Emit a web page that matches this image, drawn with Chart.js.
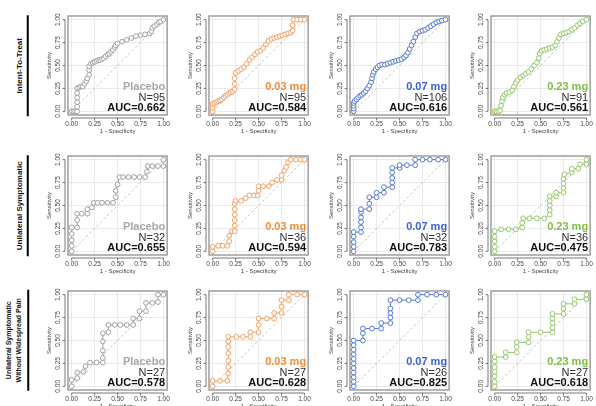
<!DOCTYPE html>
<html>
<head>
<meta charset="utf-8">
<script src="https://cdn.jsdelivr.net/npm/chart.js@4"></script>
<style>
    html, body { margin: 0; padding: 0; background: #fff; overflow: hidden; }
    body { width: 596px; height: 406px; position: relative; }
    canvas { position: absolute; }
    .row-label {
        position: absolute;
        box-sizing: border-box;
        font-family: "Liberation Sans", Arial, sans-serif;
        font-weight: bold;
        color: #111;
        text-align: center;
        border-bottom: 2.5px solid #000;
        transform: rotate(-90deg);
        white-space: pre;
    }
</style>
</head>
<body>
<script>
// panel labels
const groups = ['Placebo', '0.03 mg', '0.07 mg', '0.23 mg'];
const populations = ['Intent-To-Treat', 'Unilateral Symptomatic', 'Unilateral Symptomatic\nWithout Widespread Pain'];
const sampleSizes = [[95, 95, 106, 91], [32, 36, 32, 36], [27, 27, 26, 27]];
const aucValues = [[0.662, 0.584, 0.616, 0.561], [0.655, 0.594, 0.783, 0.475], [0.578, 0.628, 0.825, 0.618]];
const tickVals = [0, 0.25, 0.5, 0.75, 1];

// ROC points as [1 - specificity, sensitivity]
const ittPlacebo = [[0,0],[0.02,0],[0.04,0],[0.06,0],[0.06,0.05],[0.06,0.10],[0.06,0.15],[0.06,0.20],[0.06,0.25],[0.08,0.26],[0.10,0.27],[0.12,0.27],[0.14,0.30],[0.16,0.33],[0.17,0.36],[0.19,0.40],[0.19,0.45],[0.19,0.49],[0.21,0.52],[0.23,0.53],[0.25,0.54],[0.27,0.55],[0.29,0.56],[0.31,0.56],[0.33,0.57],[0.35,0.58],[0.37,0.60],[0.39,0.62],[0.41,0.63],[0.43,0.65],[0.45,0.67],[0.47,0.70],[0.48,0.72],[0.50,0.74],[0.55,0.76],[0.60,0.78],[0.65,0.80],[0.70,0.82],[0.75,0.83],[0.80,0.84],[0.85,0.85],[0.87,0.87],[0.88,0.91],[0.90,0.93],[0.93,0.95],[0.95,0.97],[0.97,0.98],[1,1]];
const itt003 = [[0,0],[0,0.04],[0,0.08],[0.02,0.09],[0.04,0.10],[0.06,0.11],[0.08,0.12],[0.10,0.13],[0.12,0.15],[0.14,0.17],[0.16,0.18],[0.18,0.20],[0.20,0.21],[0.22,0.22],[0.24,0.24],[0.24,0.30],[0.24,0.36],[0.25,0.42],[0.28,0.44],[0.31,0.46],[0.34,0.48],[0.37,0.52],[0.40,0.56],[0.43,0.59],[0.46,0.62],[0.49,0.65],[0.52,0.66],[0.55,0.69],[0.58,0.73],[0.61,0.77],[0.64,0.79],[0.67,0.80],[0.70,0.81],[0.73,0.82],[0.76,0.83],[0.79,0.84],[0.82,0.85],[0.85,0.86],[0.87,0.88],[0.87,0.94],[0.88,1],[0.92,1],[0.96,1],[1,1]];
const itt007 = [[0,0],[0,0.03],[0,0.06],[0,0.09],[0.01,0.11],[0.03,0.13],[0.05,0.15],[0.07,0.17],[0.09,0.18],[0.11,0.20],[0.13,0.22],[0.15,0.25],[0.17,0.28],[0.19,0.32],[0.20,0.36],[0.21,0.40],[0.22,0.43],[0.24,0.46],[0.26,0.48],[0.28,0.50],[0.31,0.51],[0.34,0.51],[0.37,0.52],[0.40,0.53],[0.43,0.54],[0.46,0.55],[0.49,0.56],[0.52,0.57],[0.55,0.59],[0.57,0.61],[0.59,0.64],[0.61,0.68],[0.63,0.72],[0.65,0.76],[0.67,0.81],[0.69,0.85],[0.72,0.87],[0.75,0.88],[0.78,0.89],[0.81,0.91],[0.84,0.93],[0.87,0.95],[0.90,0.97],[0.93,0.98],[0.96,0.99],[1,1]];
const itt023 = [[0,0],[0.02,0],[0.04,0],[0.06,0.01],[0.07,0.06],[0.08,0.11],[0.09,0.15],[0.11,0.18],[0.13,0.20],[0.16,0.21],[0.19,0.23],[0.21,0.27],[0.23,0.31],[0.25,0.34],[0.28,0.37],[0.31,0.39],[0.34,0.41],[0.37,0.43],[0.40,0.46],[0.43,0.50],[0.46,0.53],[0.48,0.58],[0.49,0.63],[0.51,0.66],[0.54,0.67],[0.57,0.68],[0.60,0.69],[0.63,0.70],[0.66,0.72],[0.68,0.76],[0.70,0.80],[0.72,0.84],[0.75,0.85],[0.78,0.86],[0.81,0.87],[0.84,0.89],[0.87,0.91],[0.90,0.94],[0.93,0.96],[0.96,0.98],[1,1]];

const usPlacebo = [[0,0],[0,0.06],[0,0.12],[0,0.19],[0,0.26],[0.06,0.26],[0.06,0.34],[0.06,0.41],[0.11,0.41],[0.17,0.41],[0.17,0.46],[0.22,0.48],[0.24,0.53],[0.28,0.53],[0.33,0.53],[0.39,0.53],[0.45,0.53],[0.48,0.59],[0.48,0.66],[0.50,0.73],[0.52,0.81],[0.56,0.81],[0.62,0.81],[0.68,0.81],[0.74,0.81],[0.80,0.81],[0.82,0.87],[0.83,0.93],[0.88,0.93],[0.94,0.93],[1,0.93],[1,1]];
const us003 = [[0,0],[0,0.05],[0.06,0.06],[0.11,0.06],[0.16,0.06],[0.18,0.11],[0.18,0.17],[0.21,0.22],[0.24,0.22],[0.24,0.28],[0.24,0.34],[0.24,0.40],[0.24,0.46],[0.24,0.52],[0.25,0.55],[0.31,0.55],[0.36,0.58],[0.40,0.61],[0.45,0.61],[0.49,0.61],[0.50,0.66],[0.50,0.71],[0.55,0.71],[0.61,0.71],[0.65,0.75],[0.70,0.78],[0.75,0.78],[0.75,0.83],[0.78,0.88],[0.80,0.92],[0.82,0.97],[0.85,1],[0.91,1],[0.96,1],[1,1]];
const us007 = [[0,0],[0,0.05],[0,0.10],[0,0.16],[0,0.21],[0.08,0.21],[0.08,0.26],[0.08,0.32],[0.08,0.37],[0.08,0.43],[0.08,0.46],[0.17,0.46],[0.17,0.52],[0.17,0.59],[0.25,0.59],[0.25,0.64],[0.33,0.64],[0.33,0.70],[0.42,0.70],[0.42,0.75],[0.42,0.80],[0.42,0.86],[0.42,0.91],[0.50,0.91],[0.50,0.94],[0.58,0.94],[0.67,0.94],[0.67,1],[0.75,1],[0.83,1],[0.92,1],[1,1]];
const us023 = [[0,0],[0,0.05],[0,0.11],[0,0.16],[0,0.22],[0.07,0.24],[0.15,0.24],[0.23,0.24],[0.30,0.26],[0.30,0.31],[0.31,0.36],[0.38,0.36],[0.46,0.36],[0.54,0.36],[0.60,0.40],[0.60,0.45],[0.60,0.50],[0.60,0.55],[0.60,0.60],[0.67,0.60],[0.67,0.64],[0.75,0.64],[0.75,0.69],[0.75,0.74],[0.75,0.79],[0.76,0.84],[0.84,0.86],[0.84,0.90],[0.91,0.90],[0.93,0.95],[1,0.95],[1,1]];

const wPlacebo = [[0,0],[0,0.07],[0.06,0.09],[0.06,0.15],[0.13,0.16],[0.15,0.22],[0.20,0.26],[0.27,0.26],[0.34,0.26],[0.34,0.31],[0.34,0.39],[0.34,0.49],[0.34,0.58],[0.40,0.59],[0.40,0.67],[0.47,0.67],[0.53,0.67],[0.60,0.67],[0.67,0.67],[0.67,0.74],[0.74,0.74],[0.74,0.82],[0.81,0.82],[0.81,0.91],[0.88,0.91],[0.94,0.92],[0.94,1],[1,1]];
const w003 = [[0,0],[0,0.06],[0.08,0.06],[0.16,0.06],[0.17,0.14],[0.17,0.21],[0.17,0.28],[0.17,0.36],[0.17,0.43],[0.17,0.49],[0.17,0.54],[0.26,0.54],[0.33,0.54],[0.41,0.54],[0.41,0.59],[0.50,0.59],[0.50,0.67],[0.50,0.74],[0.59,0.74],[0.67,0.74],[0.67,0.80],[0.75,0.80],[0.75,0.87],[0.75,0.94],[0.83,0.94],[0.83,1],[0.92,1],[1,1]];
const w007 = [[0,0],[0,0.05],[0,0.10],[0,0.15],[0,0.20],[0,0.25],[0,0.30],[0,0.35],[0,0.40],[0,0.45],[0,0.50],[0.10,0.50],[0.10,0.58],[0.10,0.63],[0.20,0.63],[0.30,0.63],[0.30,0.69],[0.40,0.69],[0.40,0.75],[0.40,0.80],[0.40,0.85],[0.40,0.94],[0.50,0.94],[0.60,0.94],[0.70,0.94],[0.70,1],[0.80,1],[0.90,1],[1,1]];
const w023 = [[0,0],[0,0.05],[0,0.11],[0,0.16],[0,0.21],[0,0.27],[0,0.32],[0.12,0.32],[0.12,0.37],[0.24,0.37],[0.24,0.43],[0.24,0.48],[0.37,0.48],[0.37,0.54],[0.37,0.59],[0.50,0.59],[0.63,0.59],[0.63,0.64],[0.63,0.69],[0.63,0.74],[0.63,0.79],[0.75,0.79],[0.75,0.85],[0.75,0.90],[0.87,0.90],[0.87,0.95],[1,0.95],[1,1]];

const rocCurves = [
    [ittPlacebo, itt003, itt007, itt023],
    [usPlacebo, us003, us007, us023],
    [wPlacebo, w003, w007, w023]
];
const diagonal = [[0, 0], [1, 1]];

const markerColors = ['#a0a0a0', '#f2a163', '#5479d2', '#92c868'];
const textColors = ['#a8a8a8', '#f28c38', '#3b62cf', '#7cbf49'];

// layout of the plot boxes
const boxLefts = [68, 209, 350, 491];
const boxTops = [14, 154, 289];
const boxW = 101, boxH = 101;
const yAxisW = 26, xAxisH = 20, padTop = 3, padRight = 6;
const FONT = '"Liberation Sans", Arial, sans-serif';

// R-like panel: box, offset axes, rotated y labels and the N / AUC legend
const rPanel = {
    id: 'rPanel',
    afterDraw(chart) {
        const { ctx, chartArea: a, scales: { x, y } } = chart;
        const info = chart.options.plugins.rPanel;
        ctx.save();
        ctx.strokeStyle = '#8f8f8f';
        ctx.lineWidth = 1.3;
        ctx.strokeRect(a.left, a.top, a.right - a.left, a.bottom - a.top);

        const by = a.bottom + 3, lx = a.left - 3;
        ctx.strokeStyle = '#555';
        ctx.lineWidth = 0.8;
        ctx.beginPath();
        ctx.moveTo(x.getPixelForValue(0), by);
        ctx.lineTo(x.getPixelForValue(1), by);
        ctx.moveTo(lx, y.getPixelForValue(0));
        ctx.lineTo(lx, y.getPixelForValue(1));
        tickVals.forEach(v => {
            const px = x.getPixelForValue(v), py = y.getPixelForValue(v);
            ctx.moveTo(px, by); ctx.lineTo(px, by + 2.5);
            ctx.moveTo(lx, py); ctx.lineTo(lx - 2.5, py);
        });
        ctx.stroke();

        ctx.fillStyle = '#444';
        ctx.font = '6.5px ' + FONT;
        ctx.textAlign = 'center';
        ctx.textBaseline = 'bottom';
        tickVals.forEach(v => {
            ctx.save();
            ctx.translate(lx - 3.5, y.getPixelForValue(v));
            ctx.rotate(-Math.PI / 2);
            ctx.fillText(v.toFixed(2), 0, 0);
            ctx.restore();
        });
        ctx.save();
        ctx.font = '6px ' + FONT;
        ctx.translate(a.left - 18.5, (a.top + a.bottom) / 2);
        ctx.rotate(-Math.PI / 2);
        ctx.textBaseline = 'middle';
        ctx.fillText('Sensitivity', 0, 0);
        ctx.restore();

        ctx.textAlign = 'right';
        ctx.textBaseline = 'alphabetic';
        const rx = a.right - 2;
        ctx.font = 'bold 11px ' + FONT;
        ctx.fillStyle = info.color;
        ctx.fillText(info.group, rx, a.bottom - 25);
        ctx.font = '11px ' + FONT;
        ctx.fillStyle = '#333';
        ctx.fillText('N=' + info.n, rx, a.bottom - 14.5);
        ctx.font = 'bold 11px ' + FONT;
        ctx.fillStyle = '#111';
        ctx.fillText('AUC=' + info.auc.toFixed(3), rx, a.bottom - 4);
        ctx.restore();
    }
};

function toPoints(pairs) {
    return pairs.map(p => ({ x: p[0], y: p[1] }));
}

function setTicks(scale) {
    scale.ticks = tickVals.map(v => ({ value: v }));
}

function makePanel(row, col) {
    const canvas = document.createElement('canvas');
    const w = yAxisW + boxW + padRight, h = padTop + boxH + xAxisH;
    canvas.width = w;
    canvas.height = h;
    canvas.style.left = (boxLefts[col] - yAxisW) + 'px';
    canvas.style.top = (boxTops[row] - padTop) + 'px';
    canvas.style.width = w + 'px';
    canvas.style.height = h + 'px';
    document.body.appendChild(canvas);

    const color = markerColors[col];
    new Chart(canvas.getContext('2d'), {
        type: 'line',
        data: {
            datasets: [{
                data: toPoints(rocCurves[row][col]),
                borderColor: color,
                borderWidth: 1,
                pointRadius: 2.4,
                pointBorderWidth: 1,
                pointBorderColor: color,
                pointBackgroundColor: '#fff',
                tension: 0
            }, {
                data: toPoints(diagonal),
                borderColor: '#bdbdbd',
                borderWidth: 0.8,
                borderDash: [3, 2],
                pointRadius: 0
            }]
        },
        options: {
            responsive: false,
            animation: false,
            devicePixelRatio: 1,
            layout: { padding: { top: padTop, right: padRight, left: 0, bottom: 0 } },
            plugins: {
                legend: { display: false },
                tooltip: { enabled: false },
                rPanel: {
                    group: groups[col],
                    color: textColors[col],
                    n: sampleSizes[row][col],
                    auc: aucValues[row][col]
                }
            },
            scales: {
                x: {
                    type: 'linear',
                    min: -0.04,
                    max: 1.04,
                    afterBuildTicks: setTicks,
                    afterFit: (scale) => { scale.height = xAxisH; },
                    border: { display: false },
                    grid: { color: '#e6e6e6', lineWidth: 0.8, drawTicks: false },
                    ticks: {
                        padding: 5,
                        color: '#444',
                        font: { size: 6.5, family: FONT },
                        maxRotation: 0,
                        callback: (v) => v.toFixed(2)
                    },
                    title: {
                        display: true,
                        text: '1 - Specificity',
                        color: '#444',
                        font: { size: 6, family: FONT },
                        padding: 0
                    }
                },
                y: {
                    type: 'linear',
                    min: -0.04,
                    max: 1.04,
                    afterBuildTicks: setTicks,
                    afterFit: (scale) => { scale.width = yAxisW; },
                    border: { display: false },
                    grid: { color: '#e6e6e6', lineWidth: 0.8, drawTicks: false },
                    ticks: { display: false }
                }
            }
        },
        plugins: [rPanel]
    });
}

function makeRowLabel(row) {
    const lines = populations[row].split('\n');
    const fontSize = lines.length > 1 ? 7 : 8;
    const lineH = lines.length > 1 ? 10 : 9;
    const len = 101;
    const h = lineH * lines.length + 2 + 2.5;
    const rightEdge = 28.5;
    const cx = rightEdge - h / 2;
    const cy = boxTops[row] + boxH / 2 + 1;
    const div = document.createElement('div');
    div.className = 'row-label';
    div.textContent = populations[row];
    div.style.fontSize = fontSize + 'px';
    div.style.lineHeight = lineH + 'px';
    div.style.width = len + 'px';
    div.style.height = h + 'px';
    div.style.paddingBottom = '2px';
    div.style.left = (cx - len / 2) + 'px';
    div.style.top = (cy - h / 2) + 'px';
    document.body.appendChild(div);
}

document.addEventListener('DOMContentLoaded', () => {
    for (let r = 0; r < 3; r++) {
        makeRowLabel(r);
        for (let c = 0; c < 4; c++) {
            makePanel(r, c);
        }
    }
});
</script>
</body>
</html>
